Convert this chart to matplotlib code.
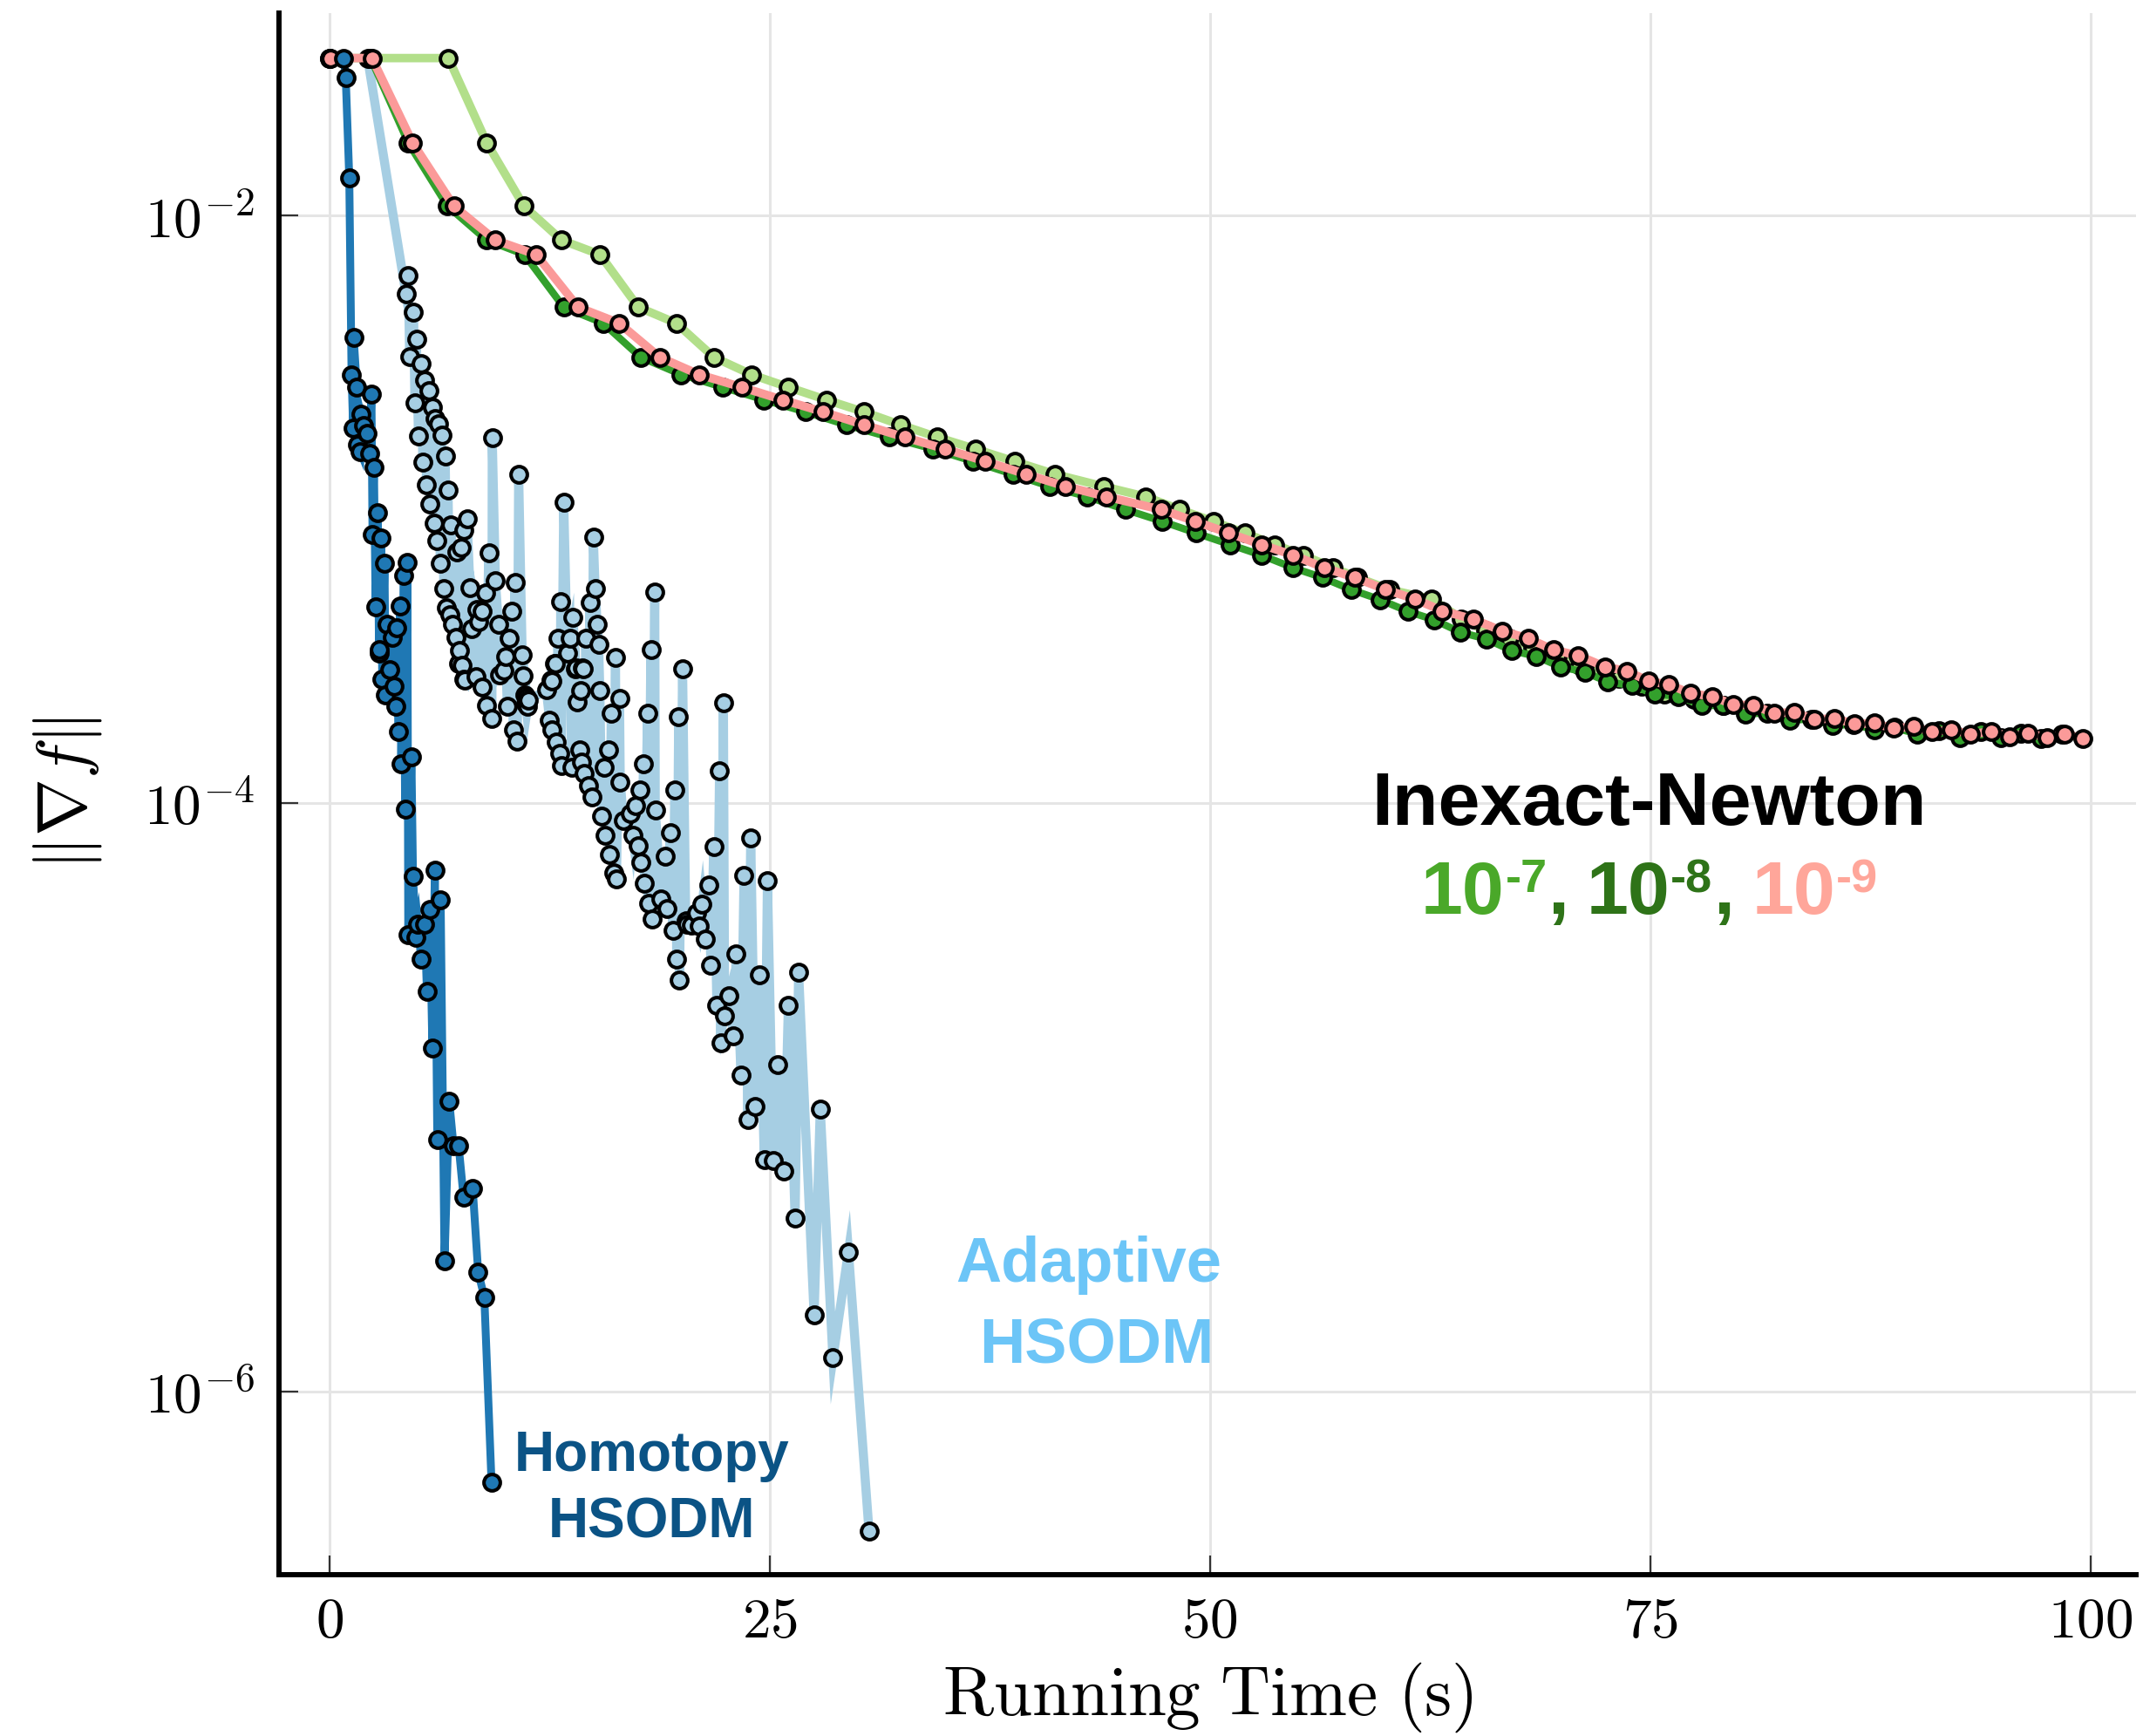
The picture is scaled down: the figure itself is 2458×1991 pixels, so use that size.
#plot gradient norm against running time for HSODM variants and inexact Newton
import numpy as np
import matplotlib
matplotlib.use('Agg')
import matplotlib.pyplot as plt
from matplotlib.transforms import IdentityTransform

plt.rcParams['mathtext.fontset'] = 'cm'

#values, gradient norm kept as log10
homotopy_t = [0.81, 0.92, 1.12, 1.25, 1.34, 1.37, 1.55, 1.58, 1.75, 1.78, 1.92, 2.11, 2.28, 2.38, 2.44,
              2.52, 2.62, 2.74, 2.81, 2.82, 2.94, 2.99, 3.12, 3.19, 3.28, 3.43, 3.56, 3.65, 3.76, 3.81,
              3.92, 4.01, 4.07, 4.22, 4.29, 4.42, 4.47, 4.65, 4.74, 4.91, 5.02, 5.2, 5.4, 5.53, 5.69,
              5.84, 5.98, 6.12, 6.31, 6.53, 6.8, 7.04, 7.33, 7.61, 8.13, 8.44, 8.79, 9.2]
homotopy_g = [-1.466, -1.533, -1.873, -2.542, -2.725, -2.416, -2.584, -2.779, -2.804, -2.678, -2.715, -2.743,
              -2.809, -2.608, -3.087, -2.858, -3.332, -3.012, -3.49, -3.478, -3.097, -3.578, -3.184, -3.632,
              -3.391, -3.544, -3.435, -3.6, -3.67, -3.403, -3.755, -3.33, -3.865, -3.225, -4.019, -3.179,
              -4.446, -3.842, -4.248, -4.454, -4.411, -4.528, -4.411, -4.638, -4.359, -4.832, -4.228, -5.144,
              -4.328, -5.556, -5.013, -5.163, -5.163, -5.337, -5.308, -5.593, -5.678, -6.309]

adaptive_t = [2.16, 4.34, 4.47, 4.55, 4.77, 4.85, 4.93, 5.05, 5.18, 5.3, 5.38, 5.51, 5.63, 5.71, 5.82,
              5.93, 5.99, 6.09, 6.2, 6.29, 6.37, 6.49, 6.57, 6.65, 6.73, 6.82, 6.9, 7.0, 7.16, 7.23,
              7.34, 7.36, 7.48, 7.52, 7.61, 7.64, 7.67, 7.81, 7.97, 8.07, 8.34, 8.35, 8.48, 8.67, 8.68,
              8.85, 8.89, 9.04, 9.22, 9.24, 9.42, 9.59, 9.66, 9.89, 10.0, 10.1, 10.21, 10.36, 10.44, 10.53,
              10.66, 10.74, 10.94, 10.99, 11.1, 11.15, 11.2, 11.25, 11.3, 12.31, 12.5, 12.58, 12.61, 12.65, 12.76,
              12.81, 12.87, 12.97, 13.09, 13.13, 13.16, 13.3, 13.5, 13.66, 13.75, 13.83, 13.97, 13.99, 14.08, 14.19,
              14.26, 14.31, 14.37, 14.42, 14.48, 14.55, 14.7, 14.79, 14.9, 14.98, 15.08, 15.2, 15.28, 15.35, 15.46,
              15.59, 15.67, 15.85, 15.92, 16.0, 16.12, 16.24, 16.29, 16.47, 16.51, 16.69, 17.07, 17.22, 17.36, 17.51,
              17.62, 17.66, 17.84, 17.89, 18.06, 18.11, 18.25, 18.33, 18.47, 18.5, 18.83, 19.06, 19.17, 19.35, 19.5,
              19.61, 19.72, 19.83, 19.88, 20.05, 20.23, 20.3, 20.54, 20.83, 21.0, 21.16, 21.33, 21.53, 21.66, 21.82,
              22.0, 22.15, 22.22, 22.37, 22.44, 22.7, 22.93, 23.1, 23.37, 23.54, 23.76, 23.92, 24.18, 24.43, 24.69,
              24.87, 25.2, 25.47, 25.82, 26.06, 26.44, 26.64, 27.52, 27.87, 28.59, 29.47, 30.64]
adaptive_g = [-1.466, -2.268, -2.206, -2.481, -2.33, -2.639, -2.422, -2.75, -2.506, -2.84, -2.56, -2.916, -2.598, -2.982, -2.653,
              -3.046, -2.69, -3.107, -2.71, -3.184, -2.747, -3.268, -2.819, -3.334, -2.935, -3.357, -3.053, -3.391, -3.436, -3.145,
              -3.525, -3.48, -3.13, -3.53, -3.071, -3.579, -3.581, -3.031, -3.265, -3.406, -3.57, -3.342, -3.382, -3.604, -3.347,
              -3.283, -3.666, -3.148, -3.711, -2.757, -3.243, -3.391, -3.564, -3.547, -3.502, -3.671, -3.438, -3.347, -3.751, -3.248,
              -3.788, -2.881, -3.495, -3.566, -3.63, -3.66, -3.64, -3.67, -3.65, -3.614, -3.716, -3.581, -3.584, -3.751, -3.525,
              -3.524, -3.791, -3.439, -3.831, -3.313, -3.87, -2.977, -3.49, -3.439, -3.876, -3.367, -3.541, -3.538, -3.655, -3.819,
              -3.615, -3.859, -3.538, -3.541, -3.899, -3.439, -3.938, -3.317, -3.978, -3.095, -3.268, -3.391, -3.459, -3.615, -4.043,
              -3.876, -4.108, -3.819, -4.174, -3.694, -4.236, -3.505, -4.256, -3.643, -3.927, -4.057, -4.034, -4.108, -4.006, -4.145,
              -3.955, -4.201, -3.864, -4.272, -3.694, -4.339, -3.478, -4.394, -3.28, -4.023, -4.324, -4.18, -4.358, -4.1, -4.43,
              -3.953, -4.528, -3.706, -4.601, -3.541, -4.398, -4.41, -4.415, -4.372, -4.418, -4.341, -4.46, -4.278, -4.549, -4.148,
              -4.687, -3.889, -4.813, -3.657, -4.723, -4.655, -4.79, -4.51, -4.924, -4.244, -5.074, -4.116, -5.029, -4.584, -5.21,
              -4.261, -5.215, -4.887, -5.248, -4.685, -5.409, -4.574, -5.738, -5.039, -5.885, -5.524, -6.474]

newton7_t = [0, 2.3, 6.75, 8.93, 11.04, 13.18, 15.36, 17.54, 19.69, 21.83, 23.97, 26.07, 28.22, 30.36,
             32.44, 34.53, 36.68, 38.9, 41.22, 43.95, 46.35, 48.3, 50.19, 52.01, 53.67, 55.29, 57.01, 58.4,
             60.2, 62.6, 64.29, 65.64, 67.0, 68.35, 69.7, 71.0, 72.15, 73.22, 74.5, 75.8, 77.5, 79.2]
newton7_g = [-1.466, -1.466, -1.466, -1.754, -1.969, -2.085, -2.134, -2.313, -2.367, -2.483, -2.542, -2.585,
             -2.628, -2.669, -2.713, -2.755, -2.795, -2.837, -2.881, -2.922, -2.957, -3.001, -3.041, -3.081,
             -3.12, -3.156, -3.199, -3.232, -3.273, -3.305, -3.372, -3.413, -3.439, -3.471, -3.502, -3.53,
             -3.545, -3.574, -3.6, -3.628, -3.645, -3.666]

newton8_t = [0, 2.33, 4.47, 6.7, 8.93, 11.07, 13.3, 15.53, 17.67, 19.98, 22.33, 24.68, 27.03, 29.35, 31.8,
             34.28, 36.55, 38.82, 40.9, 43.04, 45.21, 47.29, 49.23, 51.15, 52.92, 54.74, 56.38, 58.02, 59.66,
             61.25, 62.74, 64.23, 65.7, 67.13, 68.54, 69.93, 71.28, 72.61, 73.96, 75.26, 76.62, 77.92, 79.14,
             80.41, 81.63, 82.93, 84.2, 85.37, 86.56, 87.73, 88.89, 90.16, 91.39, 92.6, 93.77, 94.9, 96.04,
             97.21, 98.37]
newton8_g = [-1.466, -1.466, -1.754, -1.969, -2.085, -2.134, -2.313, -2.367, -2.483, -2.542, -2.585, -2.628,
             -2.669, -2.713, -2.755, -2.795, -2.837, -2.881, -2.922, -2.957, -3.001, -3.041, -3.081, -3.12,
             -3.156, -3.199, -3.232, -3.273, -3.307, -3.347, -3.376, -3.418, -3.441, -3.48, -3.5, -3.536,
             -3.553, -3.587, -3.599, -3.628, -3.636, -3.666, -3.668, -3.695, -3.693, -3.717, -3.713, -3.735,
             -3.731, -3.749, -3.742, -3.764, -3.752, -3.777, -3.755, -3.777, -3.762, -3.778, -3.765]

newton9_t = [0.05, 2.41, 4.72, 7.06, 9.42, 11.73, 14.12, 16.44, 18.75, 21.0, 23.42, 25.74, 28.04, 30.36,
             32.66, 34.96, 37.26, 39.58, 41.8, 44.13, 47.23, 49.18, 51.07, 52.92, 54.74, 56.5, 58.22, 59.99,
             61.63, 63.2, 64.97, 66.62, 68.08, 69.52, 70.93, 72.42, 73.69, 74.91, 76.08, 77.3, 78.54, 79.73,
             80.87, 82.03, 83.2, 84.34, 85.48, 86.59, 87.73, 88.81, 89.95, 91.03, 92.12, 93.2, 94.37, 95.4,
             96.48, 97.54, 98.56, 99.57]
newton9_g = [-1.466, -1.466, -1.754, -1.969, -2.085, -2.134, -2.313, -2.367, -2.483, -2.542, -2.585, -2.628,
             -2.669, -2.713, -2.755, -2.795, -2.837, -2.881, -2.922, -2.957, -3.001, -3.041, -3.081, -3.12,
             -3.156, -3.199, -3.232, -3.273, -3.305, -3.345, -3.374, -3.414, -3.439, -3.478, -3.497, -3.535,
             -3.55, -3.584, -3.596, -3.626, -3.636, -3.664, -3.666, -3.693, -3.69, -3.715, -3.71, -3.73,
             -3.727, -3.745, -3.739, -3.757, -3.749, -3.765, -3.755, -3.772, -3.76, -3.777, -3.764, -3.778]

x_ticks = [0, 25, 50, 75, 100]
y_ticks = [1e-2, 1e-4, 1e-6]
y_tick_labels = [r'$10^{-2}$', r'$10^{-4}$', r'$10^{-6}$']

#paired palette colours
c_adaptive = '#a6cee3'
c_homotopy = '#1f78b4'
c_n7 = '#b2df8a'
c_n8 = '#33a02c'
c_n9 = '#fb9a99'

fig = plt.figure(figsize=(24.58, 19.91), dpi=100)
ax = fig.add_axes([0.1302, 0.0929, 0.86655, 0.89957])

def draw(t, g, colour, lw, z):
    ax.plot(t, 10 ** np.array(g), color=colour, lw=lw, marker='o', ms=13.5,
            mfc=colour, mec='black', mew=2.9, zorder=z, solid_joinstyle='miter')

draw(adaptive_t, adaptive_g, c_adaptive, 7.5, 3)
draw(newton7_t, newton7_g, c_n7, 7, 4)
draw(newton8_t, newton8_g, c_n8, 6, 5)
draw(newton9_t, newton9_g, c_n9, 7, 6)
draw(homotopy_t, homotopy_g, c_homotopy, 6.5, 7)

ax.set_yscale('log')
ax.set_xlim(-2.87, 102.6)
ax.set_ylim(10 ** -6.622, 10 ** -1.313)
ax.set_xticks(x_ticks)
ax.set_xticklabels(['$%d$' % v for v in x_ticks])
ax.set_yticks(y_ticks)
ax.set_yticklabels(y_tick_labels)
ax.yaxis.set_minor_locator(matplotlib.ticker.NullLocator())
ax.tick_params(direction='in', length=16, width=1.6, color='#333333', labelsize=47)
ax.tick_params(axis='x', pad=16)
ax.tick_params(axis='y', pad=20)
ax.grid(True, color='#e5e5e5', lw=2.2, zorder=0)
ax.set_axisbelow(True)

for side in ['top', 'right']:
    ax.spines[side].set_visible(False)
for side in ['left', 'bottom']:
    ax.spines[side].set_linewidth(4.3)

ax.set_xlabel(r'$\mathrm{Running\ Time\ (s)}$', fontsize=57)
ax.xaxis.set_label_coords(0.5, -0.055)
ax.set_ylabel(r'$\Vert\nabla f\Vert$', fontsize=57)
ax.yaxis.set_label_coords(-0.0944, 0.5)

#method labels
bold = dict(family='Liberation Sans', weight='bold', transform=ax.transAxes, va='baseline', ha='center')
ax.text(0.2009, 0.0664, 'Homotopy', color='#0b5385', fontsize=46, **bold)
ax.text(0.2009, 0.024, 'HSODM', color='#0b5385', fontsize=46, **bold)
ax.text(0.436, 0.1876, 'Adaptive', color='#6cc5f7', fontsize=52, **bold)
ax.text(0.4404, 0.1357, 'HSODM', color='#6cc5f7', fontsize=52, **bold)
ax.text(0.738, 0.480, 'Inexact-Newton', color='black', fontsize=62, **bold)

#tolerance line built from pieces so each part gets its own colour
g7 = '#4aa829'
g8 = '#2e7318'
g9 = '#ffa69a'
pieces = [('10', g7, 62, 0, 0), ('-7', g7, 39, 25, 1), (',', g8, 62, 0, 1),
          ('10', g8, 62, 0, 20), ('-8', g8, 39, 25, 1), (',', g8, 62, 0, 1),
          ('10', g9, 62, 0, 20), ('-9', g9, 39, 25, 1)]
fig.canvas.draw()
renderer = fig.canvas.get_renderer()
box = ax.get_window_extent()
base_y = box.y0 + 0.4232 * box.height
centre_x = box.x0 + 0.738 * box.width
made = []
cursor = 0.0
for s, colour, size, rise, gap in pieces:
    cursor += gap
    t = fig.text(0, 0, s, color=colour, fontsize=size, family='Liberation Sans', weight='bold',
                 va='baseline', ha='left', transform=IdentityTransform())
    w = t.get_window_extent(renderer).width
    made.append((t, cursor, rise))
    cursor += w
shift = centre_x - cursor / 2
for t, off, rise in made:
    t.set_position((shift + off, base_y + rise))

fig.savefig('out.png', dpi=100)
